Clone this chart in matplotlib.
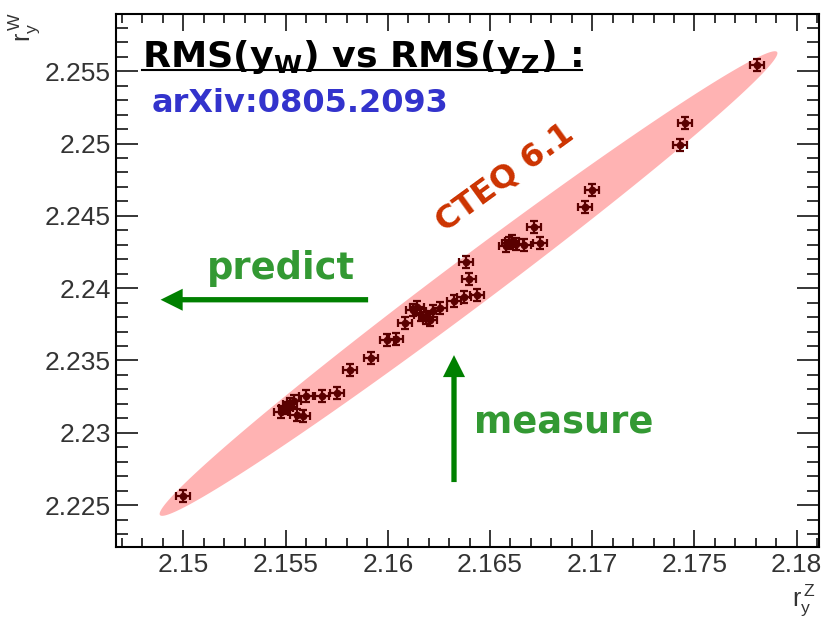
import numpy as np
import matplotlib.pyplot as plt
from matplotlib.lines import Line2D
from matplotlib.ticker import MultipleLocator, FuncFormatter

plt.rcParams['font.family'] = ['Liberation Sans', 'DejaVu Sans']

# RMS of the Z rapidity (x) and W rapidity (y) for the CTEQ 6.1 sets
rms_z = [2.15000, 2.15478, 2.15502, 2.15522, 2.15542, 2.15556, 2.15586, 2.15600,
         2.15679, 2.15752, 2.15816, 2.15918, 2.15997, 2.16041, 2.16085, 2.16124,
         2.16143, 2.16163, 2.16187, 2.16207, 2.16222, 2.16256, 2.16324, 2.16373,
         2.16437, 2.16398, 2.16383, 2.16579, 2.16593, 2.16608, 2.16628, 2.16667,
         2.16745, 2.16716, 2.16965, 2.16999, 2.17430, 2.17454, 2.17807]
rms_w = [2.22562, 2.23143, 2.23171, 2.23199, 2.23219, 2.23122, 2.23116, 2.23254,
         2.23254, 2.23275, 2.23434, 2.23517, 2.23641, 2.23648, 2.23759, 2.23849,
         2.23869, 2.23814, 2.23793, 2.23779, 2.23842, 2.23862, 2.23911, 2.23939,
         2.23952, 2.24063, 2.24181, 2.24291, 2.24312, 2.24326, 2.24305, 2.24298,
         2.24312, 2.24423, 2.24561, 2.24679, 2.24990, 2.25142, 2.25543]
err_z = 0.00035
err_w = 0.00040

# correlation ellipse: centre and the two half-axis vectors
band_center = (2.16395, 2.24032)
band_major = (0.01509, 0.01601)
band_minor = (0.000705, -0.001328)

# arrows: tail and tip
predict_tail = (2.15904, 2.2392)
predict_tip = (2.14889, 2.2392)
measure_tail = (2.16324, 2.22659)
measure_tip = (2.16324, 2.23537)

fig = plt.figure(figsize=(8.25, 6.17), dpi=100)
ax = fig.add_axes([116 / 825, 1 - 547 / 617, (819 - 116) / 825, (547 - 14) / 617])
ax.set_xlim(2.14671, 2.18109)
ax.set_ylim(2.22210, 2.25896)

t = np.linspace(0, 2 * np.pi, 400)
ex = band_center[0] + band_major[0] * np.cos(t) + band_minor[0] * np.sin(t)
ey = band_center[1] + band_major[1] * np.cos(t) + band_minor[1] * np.sin(t)
ax.fill(ex, ey, color='#ffb3b3', lw=0, zorder=1)

ax.errorbar(rms_z, rms_w, xerr=err_z, yerr=err_w, fmt='o', color='#5a0000',
            ms=4.5, elinewidth=1.6, capsize=3, capthick=1.6, zorder=3)

green = '#008000'
ax.arrow(predict_tail[0], predict_tail[1], predict_tip[0] - predict_tail[0], 0,
         width=0.000367, head_width=0.00152, head_length=0.00108,
         length_includes_head=True, color=green, lw=0, zorder=2)
ax.arrow(measure_tail[0], measure_tail[1], 0, measure_tip[1] - measure_tail[1],
         width=0.000259, head_width=0.00108, head_length=0.00152,
         length_includes_head=True, color=green, lw=0, zorder=2)

bold = dict(family='DejaVu Sans', fontweight='bold')
ax.text(2.15114, 2.24063, 'predict', color='#339933', fontsize=26.5, va='baseline', **bold)
ax.text(2.16422, 2.22998, 'measure', color='#339933', fontsize=26.5, va='baseline', **bold)
ax.text(2.16574, 2.24761, 'CTEQ 6.1', color='#cc3300', fontsize=23, rotation=36,
        ha='center', va='center', rotation_mode='anchor', **bold)

title = ax.text(0.037, 0.9006, r'RMS(y$_{\mathbf{W}}$) vs RMS(y$_{\mathbf{Z}}$) :',
                transform=ax.transAxes, fontsize=26.2, va='baseline', color='black', **bold)
ax.text(0.0508, 0.8167, 'arXiv:0805.2093', transform=ax.transAxes, fontsize=23,
        va='baseline', color='#3333cc', **bold)

# ticks on all four sides, pointing inwards
ax.xaxis.set_major_locator(MultipleLocator(0.005))
ax.xaxis.set_minor_locator(MultipleLocator(0.001))
ax.yaxis.set_major_locator(MultipleLocator(0.005))
ax.yaxis.set_minor_locator(MultipleLocator(0.001))
fmt = FuncFormatter(lambda v, p: '%g' % round(v, 4))
ax.xaxis.set_major_formatter(fmt)
ax.yaxis.set_major_formatter(fmt)
ax.tick_params(which='both', direction='in', top=True, right=True, width=1.1,
               labelsize=19, labelcolor='#333333')
ax.tick_params(axis='x', which='major', length=12.2, pad=4.3)
ax.tick_params(axis='x', which='minor', length=6.5)
ax.tick_params(axis='y', which='major', length=16, pad=3.8)
ax.tick_params(axis='y', which='minor', length=8.6)
for s in ax.spines.values():
    s.set_linewidth(1.5)

fig.text(0.988, 1 - 582 / 617, r'$\mathregular{r^{\,Z}_{y}}$', ha='right', va='top',
         fontsize=18, color='#333333')
fig.text(24 / 825, 1 - 12 / 617, r'$\mathregular{r^{\,W}_{y}}$', ha='center', va='top',
         rotation=90, fontsize=18, color='#333333')

# underline under the title
fig.canvas.draw()
bb = title.get_window_extent()
inv = fig.transFigure.inverted()
x0, y0 = inv.transform((bb.x0, 617 - 70))
x1, _ = inv.transform((bb.x1, 617 - 70))
fig.add_artist(Line2D([x0, x1], [y0, y0], transform=fig.transFigure, color='black', lw=1.5))

fig.savefig('out.png', dpi=100)
